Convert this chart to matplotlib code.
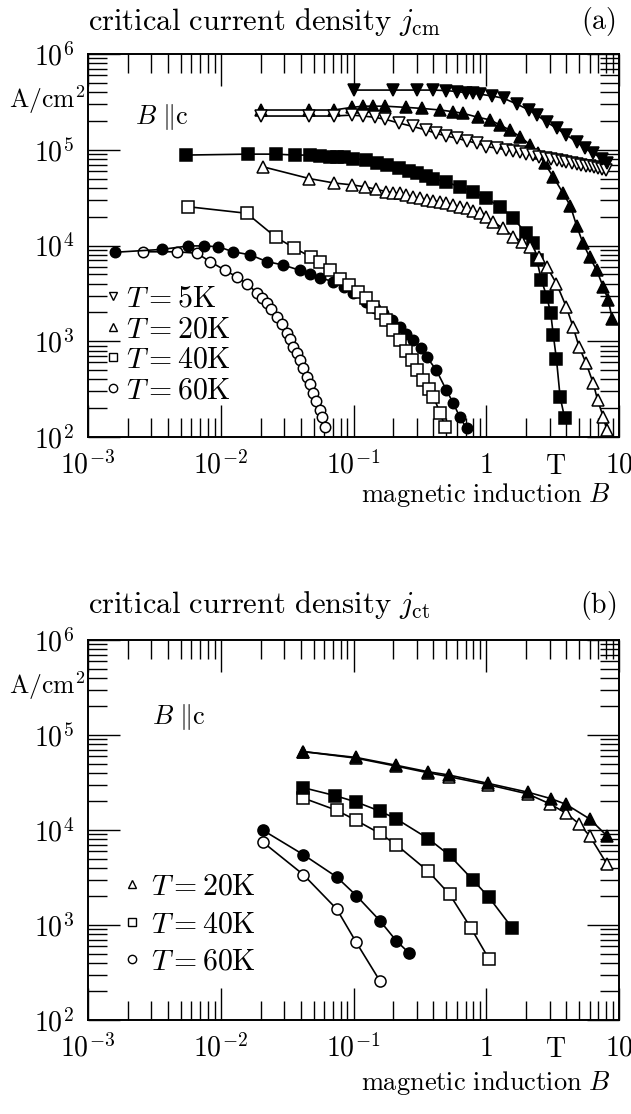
import numpy as np
import matplotlib
matplotlib.use('Agg')
import matplotlib.pyplot as plt
from matplotlib.lines import Line2D
from matplotlib.ticker import LogLocator, NullFormatter

plt.rcParams['mathtext.fontset'] = 'cm'
plt.rcParams['font.size'] = 20

# ---------------- panel (a): j_cm ----------------
# T = 5K
a5f_B = [0.1, 0.2, 0.3, 0.4, 0.5, 0.6, 0.7, 0.8, 0.9, 1.1, 1.35, 1.7, 2.1, 2.4,
         2.85, 3.4, 4.0, 4.8, 5.5, 6.4, 7.4, 8.1]
a5f_j = [4.2e5, 4.2e5, 4.2e5, 4.2e5, 4.15e5, 4.05e5, 3.95e5, 3.9e5, 3.8e5, 3.65e5,
         3.45e5, 3.0e5, 2.6e5, 2.3e5, 1.95e5, 1.67e5, 1.43e5, 1.21e5, 1.04e5,
         9.2e4, 8.1e4, 7.2e4]
a5o_B = [0.02, 0.046, 0.071, 0.097, 0.118, 0.145, 0.173, 0.22, 0.28, 0.35, 0.42,
         0.5, 0.6, 0.71, 0.85, 1.0, 1.2, 1.4, 1.6, 1.8, 2.0, 2.25, 2.5, 2.8, 3.1,
         3.4, 3.7, 4.0, 4.4, 4.8, 5.2, 5.6, 6.0, 6.5, 7.0, 7.5, 8.0]
a5o_j = [2.25e5, 2.25e5, 2.25e5, 2.3e5, 2.25e5, 2.18e5, 2.08e5, 1.9e5, 1.75e5,
         1.61e5, 1.48e5, 1.39e5, 1.32e5, 1.24e5, 1.17e5, 1.08e5, 1.04e5, 1.0e5,
         9.7e4, 9.4e4, 9.1e4, 8.8e4, 8.5e4, 8.2e4, 8.0e4, 7.8e4, 7.6e4, 7.5e4,
         7.3e4, 7.1e4, 6.95e4, 6.8e4, 6.7e4, 6.55e4, 6.45e4, 6.3e4, 6.2e4]
# T = 20K
a20f_B = [0.02, 0.046, 0.071, 0.097, 0.118, 0.14, 0.173, 0.25, 0.33, 0.45, 0.56,
          0.67, 0.87, 1.07, 1.27, 1.5, 1.8, 2.15, 2.45, 2.75, 3.2, 3.8, 4.3, 4.8,
          5.35, 6.0, 6.8, 7.6, 8.3, 8.9]
a20f_j = [2.6e5, 2.6e5, 2.6e5, 2.77e5, 2.85e5, 2.85e5, 2.85e5, 2.77e5, 2.7e5,
          2.6e5, 2.5e5, 2.4e5, 2.18e5, 2.05e5, 1.81e5, 1.61e5, 1.37e5, 1.12e5,
          9.2e4, 7.2e4, 5.2e4, 3.5e4, 2.6e4, 1.6e4, 1.06e4, 7.6e3, 5.5e3, 3.7e3,
          2.7e3, 1.7e3]
a20o_B = [0.0207, 0.0465, 0.071, 0.097, 0.122, 0.149, 0.177, 0.2, 0.223, 0.25,
          0.28, 0.315, 0.355, 0.4, 0.45, 0.5, 0.565, 0.63, 0.71, 0.8, 0.9, 1.0,
          1.13, 1.34, 1.6, 1.85, 2.15, 2.5, 2.86, 3.38, 4.0, 4.5, 5.0, 5.65, 6.4,
          6.9, 7.6, 8.1]
a20o_j = [6.65e4, 5.0e4, 4.5e4, 4.3e4, 4.1e4, 3.86e4, 3.65e4, 3.55e4, 3.5e4,
          3.35e4, 3.2e4, 3.1e4, 2.99e4, 2.92e4, 2.86e4, 2.75e4, 2.65e4, 2.55e4,
          2.44e4, 2.3e4, 2.17e4, 1.98e4, 1.77e4, 1.51e4, 1.24e4, 1.1e4, 9.7e3,
          7.6e3, 6.0e3, 4.0e3, 2.3e3, 1.42e3, 877, 589, 364, 243, 163, 118]
# T = 40K
a40f_B = [0.0055, 0.016, 0.026, 0.036, 0.047, 0.056, 0.066, 0.075, 0.085, 0.099,
          0.125, 0.15, 0.18, 0.22, 0.26, 0.3, 0.35, 0.4, 0.5, 0.63, 0.8, 1.0,
          1.27, 1.6, 2.0, 2.25, 2.4, 2.6, 2.86, 3.06, 3.2, 3.38, 3.6, 3.9]
a40f_j = [8.8e4, 9.0e4, 9.0e4, 8.8e4, 8.8e4, 8.6e4, 8.5e4, 8.4e4, 8.3e4, 8.1e4,
          7.8e4, 7.3e4, 6.9e4, 6.4e4, 6.0e4, 5.7e4, 5.3e4, 5.0e4, 4.6e4, 4.1e4,
          3.65e4, 3.1e4, 2.54e4, 1.92e4, 1.34e4, 1.05e4, 7.1e3, 4.4e3, 2.9e3,
          1.96e3, 1.16e3, 650, 263, 157]
a40o_B = [0.0057, 0.0157, 0.026, 0.0355, 0.0475, 0.056, 0.066, 0.079, 0.093,
          0.108, 0.125, 0.141, 0.16, 0.177, 0.2, 0.223, 0.25, 0.274, 0.3, 0.334,
          0.37, 0.40, 0.45, 0.49]
a40o_j = [2.54e4, 2.17e4, 1.22e4, 9.5e3, 7.6e3, 6.8e3, 5.6e3, 4.5e3, 3.9e3,
          3.3e3, 2.8e3, 2.3e3, 1.95e3, 1.67e3, 1.3e3, 1.03e3, 800, 637, 500,
          394, 320, 264, 177, 128]
# T = 60K
a60f_B = [0.0016, 0.0036, 0.0057, 0.0075, 0.0096, 0.0124, 0.0166, 0.0222,
          0.0296, 0.0396, 0.047, 0.056, 0.07, 0.085, 0.099, 0.125, 0.145, 0.167,
          0.195, 0.223, 0.25, 0.28, 0.32, 0.355, 0.42, 0.5, 0.565, 0.63, 0.71]
a60f_j = [8.5e3, 9.1e3, 9.9e3, 9.9e3, 9.7e3, 8.6e3, 8.0e3, 6.8e3, 6.25e3, 5.5e3,
          5.0e3, 4.6e3, 4.2e3, 3.7e3, 3.2e3, 2.6e3, 2.25e3, 1.96e3, 1.65e3,
          1.42e3, 1.2e3, 1.03e3, 850, 690, 501, 310, 225, 163, 123]
a60o_B = [0.0026, 0.0047, 0.0066, 0.0083, 0.0108, 0.0132, 0.0157, 0.0187,
          0.0205, 0.0222, 0.024, 0.0264, 0.029, 0.0314, 0.033, 0.0352, 0.0375,
          0.0396, 0.042, 0.0443, 0.047, 0.0496, 0.052, 0.0557, 0.058, 0.061]
a60o_j = [8.6e3, 8.6e3, 8.3e3, 6.8e3, 5.5e3, 4.7e3, 4.0e3, 3.2e3, 2.85e3,
          2.5e3, 2.15e3, 1.8e3, 1.5e3, 1.21e3, 1.05e3, 877, 750, 637, 530, 426,
          355, 286, 235, 191, 160, 128]

# ---------------- panel (b): j_ct ----------------
b20f_B = [0.0414, 0.105, 0.21, 0.366, 0.52, 1.03, 2.06, 3.1, 4.0, 6.0, 8.1]
b20f_j = [6.7e4, 5.8e4, 4.8e4, 4.1e4, 3.8e4, 3.1e4, 2.5e4, 2.13e4, 1.86e4,
          1.31e4, 8.7e3]
b20o_B = [0.0414, 0.105, 0.21, 0.366, 0.52, 1.03, 2.05, 3.0, 4.0, 5.0, 6.0, 8.1]
b20o_j = [6.7e4, 5.7e4, 4.7e4, 4.0e4, 3.65e4, 3.0e4, 2.4e4, 1.89e4, 1.5e4,
          1.16e4, 8.7e3, 4.4e3]
b40f_B = [0.0414, 0.0726, 0.105, 0.158, 0.21, 0.366, 0.53, 0.79, 1.05, 1.56]
b40f_j = [2.8e4, 2.3e4, 1.97e4, 1.58e4, 1.31e4, 8.1e3, 5.4e3, 3.0e3, 1.95e3, 940]
b40o_B = [0.0418, 0.0748, 0.105, 0.158, 0.21, 0.366, 0.53, 0.77, 1.05]
b40o_j = [2.17e4, 1.61e4, 1.26e4, 9.2e3, 7.0e3, 3.67e3, 2.1e3, 920, 437]
b60f_B = [0.0209, 0.0419, 0.0748, 0.105, 0.158, 0.21, 0.26]
b60f_j = [9.9e3, 5.5e3, 3.2e3, 2.04e3, 1.11e3, 682, 513]
b60o_B = [0.0209, 0.0419, 0.0748, 0.105, 0.158]
b60o_j = [7.4e3, 3.39e3, 1.47e3, 655, 258]

xticks = [1e-3, 1e-2, 1e-1, 1, 10]
xticklabels = [r'$10^{-3}$', r'$10^{-2}$', r'$10^{-1}$', r'$1$', r'$10$']
yticks = [1e2, 1e3, 1e4, 1e5, 1e6]
yticklabels = [r'$10^{2}$', r'$10^{3}$', r'$10^{4}$', r'$10^{5}$', r'$10^{6}$']

W, H = 631, 1114
fig = plt.figure(figsize=(W / 100, H / 100), dpi=100)
axA = fig.add_axes([88 / W, 1 - 437 / H, 531 / W, 383 / H])
axB = fig.add_axes([88 / W, 1 - 1020 / H, 531 / W, 380 / H])


def series(ax, B, j, marker, filled, ms=8.5):
    ax.plot(B, j, color='black', lw=1.2, marker=marker, ms=ms,
            mfc='black' if filled else 'white', mec='black', mew=1.1,
            clip_on=False, zorder=3)


def style(ax, xlab_y):
    ax.set_xscale('log')
    ax.set_yscale('log')
    ax.set_xlim(1e-3, 10)
    ax.set_ylim(1e2, 1e6)
    ax.set_xticks(xticks)
    ax.set_xticklabels(xticklabels)
    ax.set_yticks(yticks)
    ax.set_yticklabels(yticklabels)
    ax.xaxis.set_minor_locator(LogLocator(base=10, subs=np.arange(2, 10), numticks=20))
    ax.yaxis.set_minor_locator(LogLocator(base=10, subs=np.arange(2, 10), numticks=20))
    ax.xaxis.set_minor_formatter(NullFormatter())
    ax.yaxis.set_minor_formatter(NullFormatter())
    ax.tick_params(which='both', direction='in', top=True, right=True,
                   width=1.0, labelsize=20, pad=10)
    ax.tick_params(which='major', length=23)
    ax.tick_params(which='minor', length=14)
    for s in ax.spines.values():
        s.set_linewidth(1.4)
    # unit "T" sits among the x tick labels
    ax.text(3.35, -0.076, r'$\mathrm{T}$', transform=ax.get_xaxis_transform(),
            ha='center', va='center', fontsize=20)
    ax.text(-0.006, 1 - 46 / 383, r'$\mathrm{A/cm^2}$', transform=ax.transAxes,
            ha='right', va='center', fontsize=18.5)
    ax.text(0.985, xlab_y, r'$\mathrm{magnetic\ induction}\ B$', transform=ax.transAxes,
            ha='right', va='center', fontsize=19)


style(axA, -0.152)
style(axB, -0.166)

series(axA, a60o_B, a60o_j, 'o', False, 7.5)
series(axA, a60f_B, a60f_j, 'o', True, 7.5)
series(axA, a40o_B, a40o_j, 's', False)
series(axA, a40f_B, a40f_j, 's', True)
series(axA, a20o_B, a20o_j, '^', False)
series(axA, a20f_B, a20f_j, '^', True)
series(axA, a5o_B, a5o_j, 'v', False)
series(axA, a5f_B, a5f_j, 'v', True)

series(axB, b60o_B, b60o_j, 'o', False, 8)
series(axB, b60f_B, b60f_j, 'o', True, 8)
series(axB, b40o_B, b40o_j, 's', False)
series(axB, b40f_B, b40f_j, 's', True)
series(axB, b20o_B, b20o_j, '^', False)
series(axB, b20f_B, b20f_j, '^', True)

axA.text(0.088, 0.835, r'$B\ \Vert\mathrm{c}$', transform=axA.transAxes,
         ha='left', va='center', fontsize=19)
axB.text(0.12, 0.797, r'$B\ \Vert\mathrm{c}$', transform=axB.transAxes,
         ha='left', va='center', fontsize=19)


def mk(m):
    return Line2D([], [], ls='none', marker=m, ms=6, mfc='white', mec='black', mew=1.0)


axA.legend([mk('v'), mk('^'), mk('s'), mk('o')],
           [r'$T = 5\mathrm{K}$', r'$T = 20\mathrm{K}$',
            r'$T = 40\mathrm{K}$', r'$T = 60\mathrm{K}$'],
           loc='upper left', bbox_to_anchor=(0.035, 0.40), frameon=False,
           handlelength=0.45, handletextpad=0.2, labelspacing=0.05,
           borderpad=0, borderaxespad=0, fontsize=21.5)
axB.legend([mk('^'), mk('s'), mk('o')],
           [r'$T = 20\mathrm{K}$', r'$T = 40\mathrm{K}$', r'$T = 60\mathrm{K}$'],
           loc='upper left', bbox_to_anchor=(0.07, 0.39), frameon=False,
           handlelength=0.45, handletextpad=0.4, labelspacing=0.28,
           borderpad=0, borderaxespad=0, fontsize=21.5)

fig.text(88 / W, 1 - 22 / H, r'$\mathrm{critical\ current\ density}\ j_{\mathrm{cm}}$',
         ha='left', va='center', fontsize=22)
fig.text(616 / W, 1 - 22 / H, r'$\mathrm{(a)}$', ha='right', va='center', fontsize=20)
fig.text(88 / W, 1 - 605 / H, r'$\mathrm{critical\ current\ density}\ j_{\mathrm{ct}}$',
         ha='left', va='center', fontsize=22)
fig.text(616 / W, 1 - 605 / H, r'$\mathrm{(b)}$', ha='right', va='center', fontsize=20)

fig.savefig('out.png', dpi=100)
